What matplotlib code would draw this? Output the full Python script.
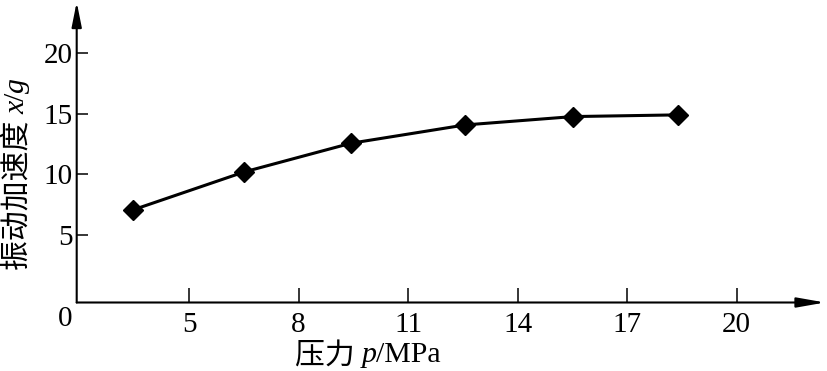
import matplotlib
matplotlib.use("Agg")
import matplotlib.pyplot as plt
from matplotlib.patches import FancyArrowPatch

# Data
pressure = [3.46, 6.51, 9.43, 12.56, 15.52, 18.4]
accel = [7.07, 10.2, 12.56, 14.07, 14.76, 14.9]
x_ticks = [5, 8, 11, 14, 17, 20]
y_ticks = [5, 10, 15, 20]
# label pieces: (text, style)
x_label = [('压力 ', 'cjk'), ('p', 'it'), ('/MPa', 'rm')]
y_label = [('振动加速度 ', 'cjk'), ('x', 'it'), ('/', 'rm'), ('g', 'it')]

plt.rcParams['font.family'] = ['Liberation Serif', 'Noto Sans CJK SC']

W, H = 827, 371
fig = plt.figure(figsize=(W / 100, H / 100), dpi=100)
left_px, right_px, bottom_px, top_px = 76.7, 825, 302.5, 2
ax = fig.add_axes([left_px / W, (H - bottom_px) / H,
                   (right_px - left_px) / W, (bottom_px - top_px) / H])
ax.set_xlim(1.92, 22.42)
ax.set_ylim(-0.56, 24.2)

for s in ax.spines.values():
    s.set_visible(False)

ax.plot(pressure, accel, color='black', lw=2.2, marker='D', ms=10.5,
        mec='black', mfc='black', solid_capstyle='round')

ax.set_xticks(x_ticks)
ax.set_yticks(y_ticks)
ax.set_xticklabels([str(v) for v in x_ticks])
ax.set_yticklabels([str(v) for v in y_ticks])
ax.tick_params(axis='x', direction='in', length=10.5, width=1.1, pad=7,
               labelsize=21)
ax.tick_params(axis='y', direction='in', length=8, width=1.1, pad=3,
               labelsize=21)

# axes arrows
ax.add_patch(FancyArrowPatch((0, 0), (1, 0), transform=ax.transAxes,
                             arrowstyle='-|>,head_length=1.7,head_width=0.3',
                             mutation_scale=10, lw=1.5, color='black',
                             clip_on=False, shrinkA=0, shrinkB=0))
ax.add_patch(FancyArrowPatch((0, 0), (0, 1), transform=ax.transAxes,
                             arrowstyle='-|>,head_length=1.5,head_width=0.3',
                             mutation_scale=10, lw=1.5, color='black',
                             clip_on=False, shrinkA=0, shrinkB=0))

# origin label
fig.text(65 / W, 1 - 319 / H, '0', ha='center', va='center', fontsize=21)

STYLES = {
    'cjk': dict(family=['Noto Sans CJK SC', 'Liberation Serif']),
    'it': dict(family=['Liberation Serif'], style='italic'),
    'rm': dict(family=['Liberation Serif']),
}


def piece_label(pieces, cx, cy, size, vertical=False):
    """Place text pieces in a row centred at pixel (cx, cy) (from top-left)."""
    renderer = fig.canvas.get_renderer()
    texts = []
    widths = []
    for txt, st in pieces:
        t = fig.text(0, 0, txt, fontsize=size, va='center',
                     ha='left' if not vertical else 'center',
                     rotation=90 if vertical else 0, **STYLES[st])
        bb = t.get_window_extent(renderer)
        widths.append(bb.height if vertical else bb.width)
        texts.append(t)
    total = sum(widths)
    pos = -total / 2
    for t, w in zip(texts, widths):
        if vertical:
            y = (H - cy) + pos + w / 2
            t.set_position((cx / W, y / H))
        else:
            t.set_position(((cx + pos) / W, (H - cy) / H))
        pos += w


piece_label(x_label, 368, 355, 21.5)
piece_label(y_label, 17, 174, 21.5, vertical=True)

fig.savefig('out.png', dpi=100, facecolor='white')
